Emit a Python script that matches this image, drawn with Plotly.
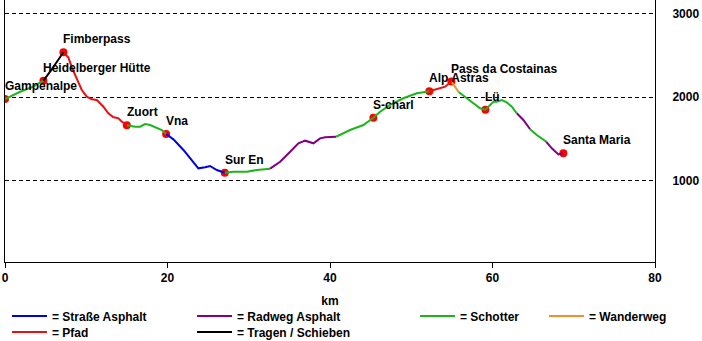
import plotly.graph_objects as go

# ---- Route profile --------------------------------------------------------
# distance along the route (km) and elevation (m) of each profile point
route_km = [
    0.0, 1.03, 1.86, 3.46, 4.73, 5.55, 7.19, 7.80, 8.26, 8.84,
    9.45, 10.07, 10.68, 11.30, 12.11, 12.69, 13.30, 13.96, 14.29, 14.99,
    16.01, 16.63, 17.24, 17.86, 18.47, 19.30, 19.83, 20.73, 21.96, 22.99,
    23.80, 24.63, 25.24, 26.07, 27.05, 28.11, 29.76, 30.99, 32.63, 33.86,
    35.09, 36.11, 36.94, 37.34, 37.96, 38.78, 39.40, 40.75, 42.47, 44.11,
    45.34, 46.17, 47.40, 49.03, 50.68, 51.50, 52.23, 53.34, 54.17, 54.94,
    55.40, 55.83, 56.84, 57.65, 58.47, 59.13, 59.50, 60.12, 60.53, 61.14,
    61.76, 62.38, 62.99, 63.80, 64.63, 65.45, 66.60, 67.30, 68.11, 68.72,
]
route_elev = [
    1977, 2025, 2064, 2124, 2196, 2303, 2535, 2473, 2347, 2224,
    2085, 2005, 1974, 1965, 1885, 1810, 1762, 1747, 1715, 1663,
    1647, 1647, 1679, 1667, 1640, 1607, 1560, 1496, 1369, 1249,
    1150, 1162, 1178, 1130, 1098, 1110, 1110, 1130, 1146, 1229,
    1348, 1449, 1480, 1468, 1449, 1508, 1520, 1527, 1607, 1667,
    1754, 1826, 1906, 1986, 2045, 2057, 2069, 2105, 2124, 2186,
    2121, 2061, 1986, 1926, 1866, 1850, 1885, 1945, 1945, 1965,
    1936, 1885, 1807, 1727, 1616, 1548, 1468, 1389, 1315, 1329,
]
# surface of each leg (leg i runs from point i to point i + 1)
route_surface = (
    ["Schotter"] * 4
    + ["Tragen / Schieben"] * 2
    + ["Pfad"] * 13
    + ["Schotter"] * 7
    + ["Straße Asphalt"] * 8
    + ["Schotter"] * 4
    + ["Radweg Asphalt"] * 9
    + ["Schotter"] * 9
    + ["Pfad"] * 3
    + ["Wanderweg"] * 2
    + ["Schotter"] * 11
    + ["Radweg Asphalt"] * 2
    + ["Schotter"] * 2
    + ["Radweg Asphalt"] * 3
)

# ---- Waypoints ------------------------------------------------------------
place_names = ["Gampenalpe", "Heidelberger Hütte", "Fimberpass", "Zuort", "Vna",
               "Sur En", "S-charl", "Alp Astras", "Pass da Costainas", "Lü",
               "Santa Maria"]
place_km = [0.0, 4.73, 7.19, 14.99, 19.83, 27.05, 45.34, 52.23, 54.94, 59.13, 68.72]
place_elev = [1977, 2196, 2535, 1663, 1560, 1098, 1754, 2069, 2186, 1850, 1329]

# ---- Axes -----------------------------------------------------------------
x_ticks = [0, 20, 40, 60, 80]
y_ticks = [1000, 2000, 3000]

# ---- Styling --------------------------------------------------------------
FONT = "Liberation Sans, Arial, sans-serif"
surface_colors = {
    "Straße Asphalt": "#0000e6",
    "Radweg Asphalt": "#800080",
    "Schotter": "#1eb41e",
    "Wanderweg": "#f0902a",
    "Pfad": "#e81010",
    "Tragen / Schieben": "#000000",
}
# legend block for each surface: (legend id, left edge px, row centre px)
legend_slots = {
    "Straße Asphalt": ("legend", 7, 316),
    "Pfad": ("legend2", 7, 332),
    "Radweg Asphalt": ("legend3", 192, 316),
    "Tragen / Schieben": ("legend4", 192, 332),
    "Schotter": ("legend5", 415, 316),
    "Wanderweg": ("legend6", 544, 316),
}
W, H = 702, 341


def surface_path(surface):
    """Polyline of all legs with the given surface, gaps between runs."""
    xs, ys = [], []
    last = None
    for i, s in enumerate(route_surface):
        if s != surface:
            continue
        if last != i:
            if xs:
                xs.append(None)
                ys.append(None)
            xs.append(route_km[i])
            ys.append(route_elev[i])
        xs.append(route_km[i + 1])
        ys.append(route_elev[i + 1])
        last = i + 1
    return xs, ys


fig = go.Figure()

# waypoint dots (the coloured route is drawn over them)
fig.add_trace(go.Scatter(
    x=place_km, y=place_elev, mode="markers",
    marker=dict(color="#ff0000", size=8, line=dict(width=0)),
    showlegend=False, hoverinfo="skip",
))

for surface, color in surface_colors.items():
    xs, ys = surface_path(surface)
    legend_id = legend_slots[surface][0]
    fig.add_trace(go.Scatter(
        x=xs, y=ys, mode="lines",
        line=dict(color=color, width=2),
        name="= " + surface, legend=legend_id,
        showlegend=True,
    ))

for name, km, elev in zip(place_names, place_km, place_elev):
    fig.add_annotation(
        x=km, y=elev, text=name, showarrow=False,
        xanchor="left", yanchor="middle", xshift=-2, yshift=13,
        font=dict(family=FONT, size=12, color="black", weight="bold"),
    )

legends = {}
for surface, (legend_id, left_px, row_px) in legend_slots.items():
    legends[legend_id] = dict(
        x=left_px / W, y=1 - (row_px - 14.5) / H,
        xref="container", yref="container",
        xanchor="left", yanchor="top",
        itemwidth=35, bgcolor="rgba(0,0,0,0)", borderwidth=0,
        font=dict(family=FONT, size=12, color="black", weight="bold"),
    )

fig.update_layout(
    width=W, height=H,
    margin=dict(l=5, r=47, t=0, b=79, autoexpand=False),
    paper_bgcolor="white", plot_bgcolor="white",
    font=dict(family=FONT, size=12, color="black", weight="bold"),
    **legends,
)

fig.update_xaxes(
    range=[0, 80], tickvals=x_ticks,
    showline=True, linecolor="black", linewidth=1,
    ticks="outside", ticklen=5, tickcolor="black",
    showgrid=False, zeroline=False,
    ticklabelstandoff=0,
    title=dict(text="km", standoff=12,
               font=dict(family=FONT, size=12, color="black", weight="bold")),
)
fig.update_yaxes(
    range=[32, 3159], side="right", tickvals=y_ticks,
    showline=True, mirror=True, linecolor="black", linewidth=1,
    ticks="", ticklabelstandoff=14,
    showgrid=True, gridcolor="black", gridwidth=1, griddash="4px,3px",
    zeroline=False,
)

fig.write_html("out.html")
